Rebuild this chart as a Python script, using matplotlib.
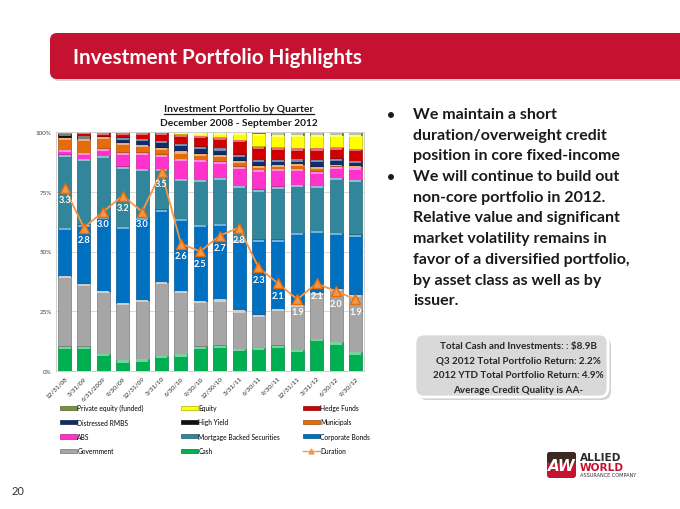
import numpy as np
import matplotlib
matplotlib.use("Agg")
import matplotlib.pyplot as plt
import matplotlib.colors as mcolors
from matplotlib.patches import FancyBboxPatch, Patch, Rectangle
from matplotlib.lines import Line2D

# ---------------- data ----------------
quarters = ["12/31/08", "3/31/09", "6/31/2009", "9/30/09", "12/31/09", "3/31/10",
            "6/30/10", "9/30/10", "12/30/10", "3/31/11", "6/30/11", "9/30/11",
            "12/31/11", "3/31/12", "6/30/12", "9/30/12"]

cash        = [10.4, 10.4, 7.3, 4.6, 5.0, 6.4, 7.1, 10.4, 10.7, 9.3, 9.8, 10.7, 8.9, 13.5, 12.1, 7.9]
government  = [29.4, 26.3, 26.3, 24.0, 24.8, 30.9, 26.5, 19.0, 19.4, 16.2, 13.9, 15.4, 19.0, 19.4, 22.5, 24.2]
corporate   = [20.2, 24.7, 31.2, 31.7, 34.4, 30.3, 30.1, 31.7, 31.6, 29.3, 31.4, 29.0, 30.0, 25.7, 23.3, 25.1]
mbs         = [30.6, 27.4, 25.3, 25.3, 20.4, 17.0, 16.7, 18.9, 19.1, 22.8, 20.9, 22.1, 20.1, 19.0, 22.9, 22.8]
abs_        = [2.0, 2.5, 3.1, 5.9, 6.9, 6.0, 8.4, 8.3, 7.0, 8.0, 8.3, 7.4, 6.6, 6.0, 4.8, 5.0]
municipals  = [5.2, 5.9, 5.0, 4.2, 3.1, 3.0, 3.2, 2.8, 2.8, 2.5, 1.7, 1.8, 2.1, 2.0, 0.4, 0.6]
high_yield  = [1.4, 1.1, 0.0, 0.0, 0.0, 0.0, 0.0, 0.0, 0.0, 0.0, 0.0, 0.0, 0.0, 0.0, 0.0, 0.0]
distressed  = [0.0, 0.0, 0.0, 2.1, 2.5, 2.8, 3.1, 2.9, 2.7, 2.5, 2.3, 1.9, 2.0, 2.7, 3.0, 2.4]
hedge_funds = [0.4, 1.8, 1.8, 2.2, 2.9, 3.6, 3.9, 4.5, 4.5, 6.1, 5.7, 5.3, 4.6, 5.0, 4.6, 4.9]
equity      = [0.4, 0.0, 0.0, 0.0, 0.0, 0.0, 1.1, 1.5, 2.2, 3.3, 5.4, 5.3, 5.6, 5.6, 5.3, 6.0]
private_eq  = [0.0, 0.0, 0.0, 0.0, 0.0, 0.0, 0.0, 0.0, 0.0, 0.0, 0.6, 1.1, 1.1, 1.1, 1.1, 1.1]
duration    = [3.3, 2.8, 3.0, 3.2, 3.0, 3.5, 2.6, 2.5, 2.7, 2.8, 2.3, 2.1, 1.9, 2.1, 2.0, 1.9]

series_names = ["Cash", "Government", "Corporate Bonds", "Mortgage Backed Securities", "ABS",
                "Municipals", "High Yield", "Distressed RMBS", "Hedge Funds", "Equity",
                "Private equity (funded)"]
series_vals = [cash, government, corporate, mbs, abs_, municipals, high_yield, distressed,
               hedge_funds, equity, private_eq]
series_colors = ["#00B050", "#A6A6A6", "#0070C0", "#31869B", "#FF33CC", "#E46C0A",
                 "#111111", "#0F2D6B", "#D00000", "#FFFF00", "#77933C"]
dur_color = "#F79646"

# ---------------- figure ----------------
W, H = 680, 510
fig = plt.figure(figsize=(W / 100, H / 100), dpi=100)
fig.patch.set_facecolor("white")

bg = fig.add_axes([0, 0, 1, 1], zorder=0)
bg.set_xlim(0, W)
bg.set_ylim(H, 0)
bg.axis("off")

FONT = "Lato"
renderer = fig.canvas.get_renderer()


def fit_text(axx, x, y, s, target_w, **kw):
    t = axx.text(x, y, s, fontsize=10, **kw)
    w = t.get_window_extent(renderer=renderer).width
    t.set_fontsize(10 * target_w / w)
    return t


# title bar
bg.add_patch(FancyBboxPatch((52, 36), 700, 46, boxstyle="round,pad=0,rounding_size=7",
                            facecolor="#BBBBBB", edgecolor="none", alpha=0.6, zorder=1))
bg.add_patch(FancyBboxPatch((50, 34), 700, 46, boxstyle="round,pad=0,rounding_size=7",
                            facecolor="#C41230", edgecolor="none", zorder=2))
fit_text(bg, 73, 58, "Investment Portfolio Highlights", 290, color="white",
         fontweight="bold", family=FONT, va="center", ha="left", zorder=3)

# chart titles
t1 = fit_text(bg, 239, 109, "Investment Portfolio by Quarter", 150, color="#1a1a1a",
              fontweight="bold", family=FONT, va="center", ha="center", zorder=3)
fit_text(bg, 239, 124, "December 2008 - September 2012", 158, color="#1a1a1a",
         fontweight="bold", family=FONT, va="center", ha="center", zorder=3)
bb = t1.get_window_extent(renderer=renderer)
bg.plot([bb.x0, bb.x1], [114.5, 114.5], color="#1a1a1a", lw=0.9, zorder=3)

# bullets
lines1 = ["We maintain a short", "duration/overweight credit", "position in core fixed-income"]
lines2 = ["We will continue to build out", "non-core portfolio in 2012.",
          "Relative value and significant", "market volatility remains in",
          "favor of a diversified portfolio,", "by asset class as well as by", "issuer."]
ref = bg.text(0, 0, "favor of a diversified portfolio,", fontsize=10, fontweight="bold", family=FONT)
bsize = 10 * 217 / ref.get_window_extent(renderer=renderer).width
ref.remove()
y0, dy = 115, 20.7
for i, s in enumerate(lines1 + lines2):
    bg.text(413, y0 + i * dy, s, fontsize=bsize, fontweight="bold", family=FONT,
            color="#1a1a1a", va="center", ha="left")
for yy in (y0, y0 + 3 * dy):
    bg.text(391, yy, "\u2022", fontsize=bsize * 0.85, fontweight="bold", family=FONT,
            color="#1a1a1a", va="center", ha="center")

# info box
bg.add_patch(FancyBboxPatch((418, 338), 193, 63, boxstyle="round,pad=0,rounding_size=9",
                            facecolor="#BFBFBF", edgecolor="none", alpha=0.7, zorder=1))
bg.add_patch(FancyBboxPatch((415, 335), 193, 63, boxstyle="round,pad=0,rounding_size=9",
                            facecolor="#D9D9D9", edgecolor="white", lw=2, zorder=2))
box_lines = ["Total Cash and Investments: : $8.9B", "Q3 2012 Total Portfolio Return: 2.2%",
             "2012 YTD Total Portfolio Return: 4.9%", "Average Credit Quality is AA-"]
ref = bg.text(0, 0, box_lines[2], fontsize=10, fontweight="bold", family=FONT)
boxsize = 10 * 172 / ref.get_window_extent(renderer=renderer).width
ref.remove()
for i, s in enumerate(box_lines):
    bg.text(518, 347 + i * 14.5, s, fontsize=boxsize, fontweight="bold", family=FONT,
            color="#262626", va="center", ha="center", zorder=3)

# logo
bg.add_patch(FancyBboxPatch((547, 453), 29, 26, boxstyle="round,pad=0,rounding_size=3",
                            facecolor="#C41230", edgecolor="none", zorder=2))
bg.add_patch(FancyBboxPatch((547, 453), 29, 11, boxstyle="round,pad=0,rounding_size=3",
                            facecolor="#3B2A22", edgecolor="none", zorder=2))
bg.text(561.5, 467, "AW", fontsize=11, fontweight="bold", style="italic", family="DejaVu Sans",
        color="white", ha="center", va="center", zorder=3)
bg.text(580, 458.5, "ALLIED", fontsize=7.6, fontweight="bold", family="DejaVu Sans",
        color="#2b2b2b", ha="left", va="center")
bg.text(580, 467.8, "WORLD", fontsize=7.6, fontweight="bold", family="DejaVu Sans",
        color="#C41230", ha="left", va="center")
bg.text(580, 476, "ASSURANCE COMPANY", fontsize=3.6, family="DejaVu Sans",
        color="#333333", ha="left", va="center")

# page number
bg.text(12, 492, "20", fontsize=8, family=FONT, color="#333333", va="center", ha="left")

# ---------------- chart ----------------
ax = fig.add_axes([56 / W, 1 - 372 / H, 308 / W, 239 / H], zorder=2)
x = np.arange(len(quarters))
bottom = np.zeros(len(quarters))
bw = 0.67
for name, vals, col in zip(series_names, series_vals, series_colors):
    v = np.array(vals, dtype=float)
    dark = tuple(c * 0.75 for c in mcolors.to_rgb(col))
    light = tuple(c + (1 - c) * 0.45 for c in mcolors.to_rgb(col))
    ax.bar(x, v, bw, bottom=bottom, color=col, edgecolor=dark, linewidth=0.5, zorder=2)
    hv = np.minimum(v, 0.9)
    ax.bar(x, hv, bw * 0.92, bottom=bottom + v - hv - 0.15 * (v > 1), color=light,
           linewidth=0, zorder=2.5)
    bottom += v

ax.set_xlim(-0.44, len(quarters) - 0.56)
ax.set_ylim(0, 100)
ax.set_yticks([0, 25, 50, 75, 100])
ax.set_yticklabels(["0%", "25%", "50%", "75%", "100%"], fontsize=4.5, family=FONT, color="#404040")
ax.set_xticks(x)
ax.set_xticklabels(quarters, rotation=45, ha="right", rotation_mode="anchor",
                   fontsize=4.6, family=FONT, color="#262626")
ax.tick_params(axis="both", length=0, pad=3)
ax.yaxis.grid(True, color="#D9D9D9", lw=0.7, zorder=0)
ax.set_axisbelow(True)
for sp in ax.spines.values():
    sp.set_color("#D0D0D0")
    sp.set_linewidth(0.7)

ax2 = ax.twinx()
ax2.set_ylim(1, 4)
ax2.set_axis_off()
ax2.plot(x, duration, color=dur_color, lw=1.3, marker="^", ms=7, mfc=dur_color,
         mec="#E46C0A", zorder=5)
for xi, d in zip(x, duration):
    ax2.annotate(f"{d:.1f}", (xi, d), xytext=(0, -12), textcoords="offset pixels",
                 ha="center", va="center", color="white", fontweight="bold",
                 fontsize=6.6, family=FONT, zorder=6)

# legend (three columns, row-major order as in original)
def patch(name):
    i = series_names.index(name)
    col = series_colors[i]
    return Patch(facecolor=col, edgecolor=tuple(c * 0.7 for c in mcolors.to_rgb(col)), lw=0.5)

cols = [["Private equity (funded)", "Distressed RMBS", "ABS", "Government"],
        ["Equity", "High Yield", "Mortgage Backed Securities", "Cash"],
        ["Hedge Funds", "Municipals", "Corporate Bonds", "Duration"]]
col_x = [60, 181, 303]
for cx, names in zip(col_x, cols):
    handles = []
    for n in names:
        if n == "Duration":
            handles.append(Line2D([], [], color=dur_color, lw=1, marker="^", ms=3.5))
        else:
            handles.append(patch(n))
    fig.legend(handles, names, loc="upper left", bbox_to_anchor=(cx / W, 1 - 405 / H),
               frameon=False, prop={"family": FONT, "size": 4.8},
               handlelength=2.5, handleheight=0.6, handletextpad=0.1,
               labelspacing=1.1, borderaxespad=0, borderpad=0)

fig.savefig("out.png", dpi=100)
